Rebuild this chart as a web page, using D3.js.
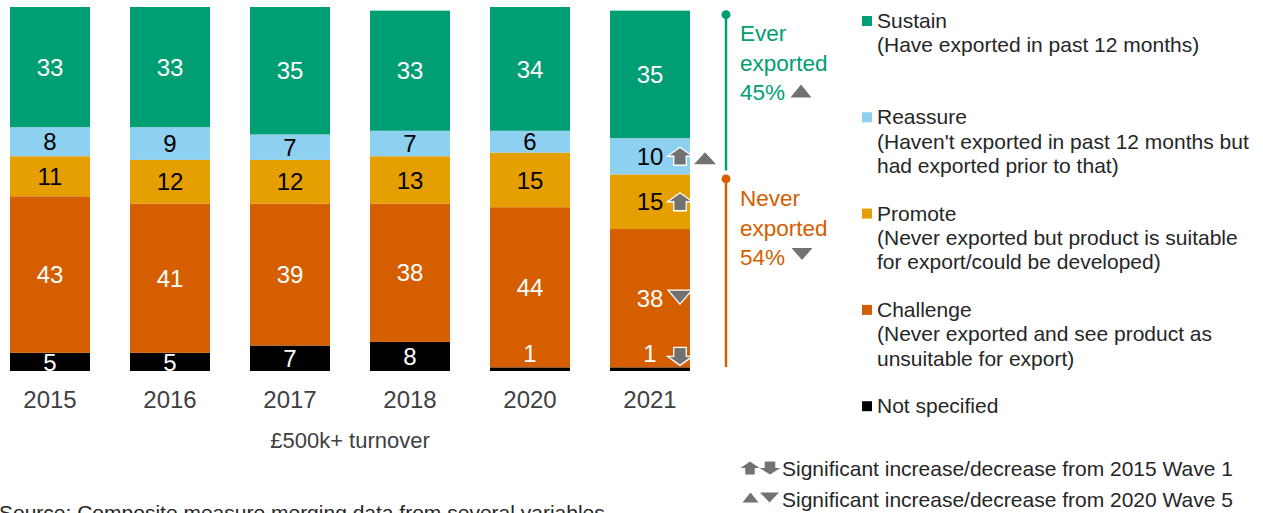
<!DOCTYPE html>
<html>
<head>
<meta charset="utf-8">
<script src="https://cdn.jsdelivr.net/npm/d3@7"></script>
<style>
  html, body { margin: 0; padding: 0; background: #fff; overflow: hidden; }
  svg { display: block; font-family: "Liberation Sans", Arial, sans-serif; }
</style>
</head>
<body>
<svg id="chart" width="1263" height="513"></svg>
<script>
// Export segments by survey year (% of £500k+ turnover businesses)
const years = ["2015", "2016", "2017", "2018", "2020", "2021"];
const notSpecified = [5, 5, 7, 8, 1, 1];
const challenge = [43, 41, 39, 38, 44, 38];
const promote = [11, 12, 12, 13, 15, 15];
const reassure = [8, 9, 7, 7, 6, 10];
const sustain = [33, 33, 35, 33, 34, 35];

// stacking order, bottom to top
const segmentKeys = ["notSpecified", "challenge", "promote", "reassure", "sustain"];
const segmentValues = { notSpecified, challenge, promote, reassure, sustain };
const segmentColors = {
  sustain: "#009e73",
  reassure: "#8dd0f0",
  promote: "#e69f00",
  challenge: "#d55e00",
  notSpecified: "#000000"
};
const labelColors = {
  sustain: "#ffffff",
  reassure: "#000000",
  promote: "#000000",
  challenge: "#ffffff",
  notSpecified: "#ffffff"
};

// significance markers for the latest wave
const markers = [
  { year: "2021", key: "reassure", shape: "arrowUp" },
  { year: "2021", key: "reassure", shape: "triUp", outside: true },
  { year: "2021", key: "promote", shape: "arrowUp" },
  { year: "2021", key: "challenge", shape: "triDown" },
  { year: "2021", key: "notSpecified", shape: "arrowDown" }
];

// headline totals for 2021
const everExported = 45;
const neverExported = 54;

const legendItems = [
  { key: "sustain", lines: ["Sustain", "(Have exported in past 12 months)"] },
  { key: "reassure", lines: ["Reassure", "(Haven't exported in past 12 months but", "had exported prior to that)"] },
  { key: "promote", lines: ["Promote", "(Never exported but product is suitable", "for export/could be developed)"] },
  { key: "challenge", lines: ["Challenge", "(Never exported and see product as", "unsuitable for export)"] },
  { key: "notSpecified", lines: ["Not specified"] }
];

const markerGrey = "#727272";
const textGrey = "#404040";

const svg = d3.select("#chart");

const x = d3.scaleBand().domain(years).range([-10, 710])
  .paddingInner(1 / 3).paddingOuter(1 / 6);
const y = d3.scaleLinear().domain([0, 100]).range([371, 7]);

const rows = years.map((yr, i) => {
  const r = { year: yr };
  segmentKeys.forEach(k => { r[k] = segmentValues[k][i]; });
  return r;
});
const stacked = d3.stack().keys(segmentKeys)(rows);

// bars
const layers = svg.append("g").selectAll("g")
  .data(stacked).join("g")
  .attr("fill", d => segmentColors[d.key]);

layers.selectAll("rect")
  .data(d => d.map(s => Object.assign(s, { key: d.key })))
  .join("rect")
  .attr("x", d => x(d.data.year))
  .attr("width", x.bandwidth())
  .attr("y", d => y(d[1]))
  .attr("height", d => y(d[0]) - y(d[1]));

// value labels
const labelG = svg.append("g")
  .attr("font-size", 24)
  .attr("text-anchor", "middle");

stacked.forEach(layer => {
  layer.forEach(d => {
    const v = d[1] - d[0];
    const top = y(d[1]), bottom = y(d[0]);
    let cy = (top + bottom) / 2;
    if (bottom - top < 12) cy = top - 14;
    labelG.append("text")
      .attr("x", x(d.data.year) + x.bandwidth() / 2)
      .attr("y", cy)
      .attr("dy", "0.36em")
      .attr("fill", labelColors[layer.key])
      .text(v);
  });
});

// marker shapes
function arrowPath(cx, cy, w, h, up) {
  const s = up ? 1 : -1;
  const top = cy - s * h / 2, bot = cy + s * h / 2, mid = cy;
  return `M${cx},${top} L${cx + w / 2},${mid} L${cx + w * 0.25},${mid} L${cx + w * 0.25},${bot}` +
    ` L${cx - w * 0.25},${bot} L${cx - w * 0.25},${mid} L${cx - w / 2},${mid} Z`;
}
function triPath(cx, cy, w, h, up) {
  const s = up ? 1 : -1;
  return `M${cx},${cy - s * h / 2} L${cx + w / 2},${cy + s * h / 2} L${cx - w / 2},${cy + s * h / 2} Z`;
}
function drawMarker(g, shape, cx, cy, w, h, outline) {
  const path = (shape === "arrowUp" || shape === "arrowDown")
    ? arrowPath(cx, cy, w, h, shape === "arrowUp")
    : triPath(cx, cy, w, h, shape === "triUp");
  const p = g.append("path").attr("d", path).attr("fill", markerGrey);
  if (outline) p.attr("stroke", "#ffffff").attr("stroke-width", 1.3).attr("stroke-linejoin", "miter");
}

const markerG = svg.append("g");
markers.forEach(m => {
  const layer = stacked.find(l => l.key === m.key);
  const d = layer[years.indexOf(m.year)];
  const top = y(d[1]), bottom = y(d[0]);
  let cy = (top + bottom) / 2;
  if (bottom - top < 12) cy = top - 11;
  const right = x(m.year) + x.bandwidth();
  if (m.shape === "arrowUp" || m.shape === "arrowDown") {
    drawMarker(markerG, m.shape, right - 10, cy, 25, 18, true);
  } else if (m.outside) {
    drawMarker(markerG, m.shape, right + 15, cy + 2, 22, 12, false);
  } else {
    drawMarker(markerG, m.shape, right - 10, cy - 1, 24, 14, true);
  }
});

// year axis
const axis = svg.append("g")
  .attr("transform", `translate(0,${y(0)})`)
  .call(d3.axisBottom(x).tickSize(0).tickPadding(20));
axis.select(".domain").remove();
axis.selectAll("text")
  .attr("font-size", 24)
  .attr("font-family", "Liberation Sans, Arial, sans-serif")
  .attr("fill", textGrey);

svg.append("text")
  .attr("x", 350).attr("y", 448)
  .attr("text-anchor", "middle")
  .attr("font-size", 22)
  .attr("fill", textGrey)
  .text("£500k+ turnover");

// ever / never exported brackets beside the latest bar
const latest = stacked.map(l => l[l.length - 1]);
const barTop = y(latest[latest.length - 1][1]);
const everBottom = y(latest[segmentKeys.indexOf("promote")][1]);
const barBottom = y(0);
const bracketX = 726;
const green = segmentColors.sustain, orange = segmentColors.challenge;

function bracket(y0, y1, color) {
  svg.append("line")
    .attr("x1", bracketX).attr("x2", bracketX)
    .attr("y1", y0).attr("y2", y1)
    .attr("stroke", color).attr("stroke-width", 2.5);
  svg.append("circle")
    .attr("cx", bracketX).attr("cy", y0).attr("r", 4.5)
    .attr("fill", color);
}
bracket(barTop + 4, everBottom - 4, green);
bracket(everBottom + 4.5, barBottom - 4, orange);

function bracketLabel(lines, baseline, color) {
  const t = svg.append("text")
    .attr("font-size", 22.5).attr("fill", color);
  lines.forEach((ln, i) => {
    t.append("tspan").attr("x", 740).attr("y", baseline + i * 29.5).text(ln);
  });
}
bracketLabel(["Ever", "exported", everExported + "%"], 41, green);
bracketLabel(["Never", "exported", neverExported + "%"], 206, orange);
drawMarker(svg, "triUp", 801, 91, 21, 13, false);
drawMarker(svg, "triDown", 802, 254, 21, 12, false);

// category legend
const legend = svg.append("g").attr("font-size", 21).attr("fill", "#262626");
legendItems.forEach((item, i) => {
  const base = 28 + i * 96.3;
  legend.append("rect")
    .attr("x", 862).attr("y", base - 12)
    .attr("width", 10).attr("height", 10)
    .attr("fill", segmentColors[item.key]);
  item.lines.forEach((ln, j) => {
    legend.append("text")
      .attr("x", 877).attr("y", base + j * 24.3)
      .text(ln);
  });
});

// significance key
const key = svg.append("g");
drawMarker(key, "arrowUp", 750, 468, 19, 13, false);
drawMarker(key, "arrowDown", 770, 468, 21, 13, false);
drawMarker(key, "triUp", 750.5, 497.5, 16, 10, false);
drawMarker(key, "triDown", 769.5, 497.5, 19, 10, false);
key.append("text").attr("x", 782).attr("y", 476)
  .attr("font-size", 21).attr("fill", "#262626")
  .text("Significant increase/decrease from 2015 Wave 1");
key.append("text").attr("x", 782).attr("y", 507)
  .attr("font-size", 21).attr("fill", "#262626")
  .text("Significant increase/decrease from 2020 Wave 5");

// source note
svg.append("text")
  .attr("x", -1).attr("y", 520)
  .attr("font-size", 21).attr("fill", "#262626")
  .text("Source: Composite measure merging data from several variables");
</script>
</body>
</html>
